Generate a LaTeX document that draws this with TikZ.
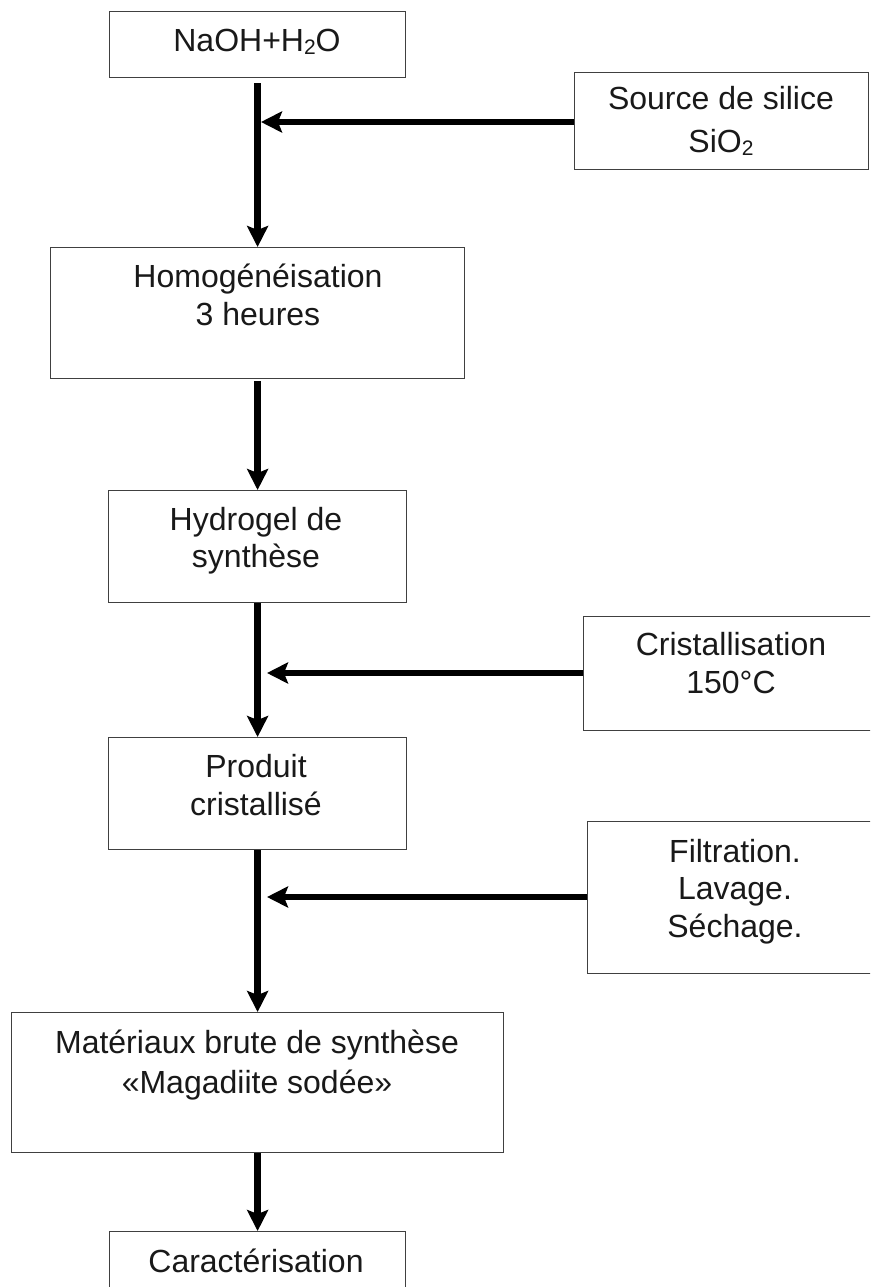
\documentclass[tikz,border=0pt]{standalone}
\usepackage{fontspec}
\setmainfont{Liberation Sans}
\usetikzlibrary{arrows.meta,calc}
\newcommand{\lowsub}[1]{\raisebox{-3pt}{\fontsize{21}{21}\selectfont #1}}
\begin{document}
\begin{tikzpicture}[x=1pt,y=-1pt,
  box/.style={draw=black!75, line width=1.2pt, rectangle, inner sep=0pt, anchor=north west},
  lbl/.style={anchor=base, inner sep=0pt, font=\fontsize{32}{38}\selectfont, text=black!90},
  flow/.style={line width=6.5pt, -{Stealth[length=21pt,width=21pt,inset=4pt]}},
]
\clip (0,0) rectangle (870,1287);
\fill[white] (0,0) rectangle (870,1287);

% boxes
\node[box, minimum width=296pt, minimum height=66pt]  (naoh)   at (109,11)  {};
\node[box, minimum width=294pt, minimum height=97pt]  (source) at (574,72)  {};
\node[box, minimum width=414pt, minimum height=131pt] (homog)  at (50,247)  {};
\node[box, minimum width=298pt, minimum height=112pt] (hydro)  at (108,490) {};
\node[box, minimum width=310pt, minimum height=114pt] (cris)   at (583,616) {};
\node[box, minimum width=298pt, minimum height=112pt] (prod)   at (108,737) {};
\node[box, minimum width=310pt, minimum height=152pt] (filt)   at (587,821) {};
\node[box, minimum width=492pt, minimum height=140pt] (mat)    at (11,1012) {};
\node[box, minimum width=296pt, minimum height=100pt] (cara)   at (109,1231) {};

% texts
\node[lbl] (t-naoh)  at (257,52)  {NaOH+H\lowsub{2}O};
\node[lbl] (t-src1)  at (721,110) {Source de silice};
\node[lbl] (t-src2)  at (721,152) {SiO\lowsub{2}};
\node[lbl] (t-hom1)  at (258,287) {Homogénéisation};
\node[lbl] (t-hom2)  at (258,325) {3 heures};
\node[lbl] (t-hyd1)  at (256,530) {Hydrogel de};
\node[lbl] (t-hyd2)  at (256,567) {synthèse};
\node[lbl] (t-cri1)  at (731,655) {Cristallisation};
\node[lbl] (t-cri2)  at (731,693) {150°C};
\node[lbl] (t-pro1)  at (256,777) {Produit};
\node[lbl] (t-pro2)  at (256,815) {cristallisé};
\node[lbl] (t-fil1)  at (735,862) {Filtration.};
\node[lbl] (t-fil2)  at (735,899) {Lavage.};
\node[lbl] (t-fil3)  at (735,937) {Séchage.};
\node[lbl] (t-mat1)  at (257,1053) {Matériaux brute de synthèse};
\node[lbl] (t-mat2)  at (257,1093) {«Magadiite sodée»};
\node[lbl] (t-car)   at (256,1272) {Caractérisation};

% junction points on the trunk
\coordinate (j1) at (261,122);
\coordinate (j2) at (267,673);
\coordinate (j3) at (267,897);

% vertical flow
\draw[flow] ([yshift=-5pt]naoh.south) -- (naoh.south |- homog.north);
\draw[flow] ([yshift=-2pt]homog.south) -- (homog.south |- hydro.north);
\draw[flow] (hydro.south) -- (hydro.south |- prod.north);
\draw[flow] (prod.south) -- (prod.south |- mat.north);
\draw[flow] (mat.south) -- (mat.south |- cara.north);

% side inputs
\draw[flow] (source.west |- j1) -- (j1);
\draw[flow] (cris.west |- j2) -- (j2);
\draw[flow] (filt.west |- j3) -- (j3);
\end{tikzpicture}
\end{document}
